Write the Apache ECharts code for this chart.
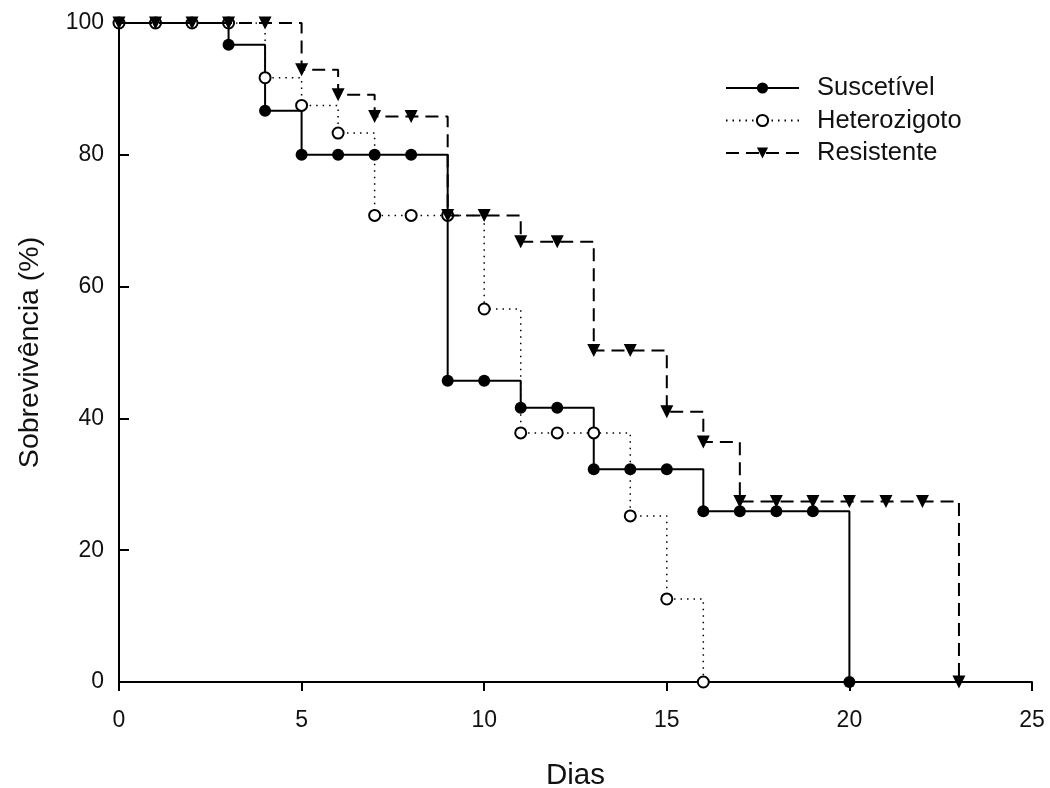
<!DOCTYPE html>
<html>
<head>
<meta charset="utf-8">
<script src="https://cdn.jsdelivr.net/npm/echarts@6/dist/echarts.min.js"></script>
<style>
  html, body { margin: 0; padding: 0; background: #fff; }
  #chart { width: 1050px; height: 788px; }
</style>
</head>
<body>
<div id="chart"></div>
<script>
// dados (sobrevivencia diaria, %)
var suscDays = [0, 1, 2, 3, 4, 5, 6, 7, 8, 9, 10, 11, 12, 13, 14, 15, 16, 17, 18, 19, 20];
var suscValues = [100, 100, 100, 96.7, 86.7, 80, 80, 80, 80, 45.7, 45.7, 41.6, 41.6, 32.3, 32.3, 32.3, 25.9, 25.9, 25.9, 25.9, 0];

var heteroDays = [0, 1, 2, 3, 4, 5, 6, 7, 8, 9, 10, 11, 12, 13, 14, 15, 16];
var heteroValues = [100, 100, 100, 100, 91.7, 87.5, 83.3, 70.8, 70.8, 70.8, 56.6, 37.8, 37.8, 37.8, 25.2, 12.6, 0];

var resistDays = [0, 1, 2, 3, 4, 5, 6, 7, 8, 9, 10, 11, 12, 13, 14, 15, 16, 17, 18, 19, 20, 21, 22, 23];
var resistValues = [100, 100, 100, 100, 100, 92.9, 89.1, 85.8, 85.8, 70.8, 70.8, 66.8, 66.8, 50.3, 50.3, 41.0, 36.4, 27.4, 27.4, 27.4, 27.4, 27.4, 27.4, 0];

var xTicks = [0, 5, 10, 15, 20, 25];
var yTicks = [0, 20, 40, 60, 80, 100];

function pares(xs, ys) {
  return xs.map(function (x, i) { return [x, ys[i]]; });
}

var fonte = "'Liberation Sans', Arial, sans-serif";
var chart = echarts.init(document.getElementById('chart'));

var option = {
  animation: false,
  backgroundColor: '#ffffff',
  grid: { left: 119, right: 18, top: 23, bottom: 106, containLabel: false, outerBoundsMode: 'none' },
  legend: {
    orient: 'vertical',
    left: 720,
    top: 70,
    itemWidth: 73,
    itemHeight: 14,
    itemGap: 6.5,
    data: ['Suscetível', 'Heterozigoto', 'Resistente'],
    textStyle: {
      fontFamily: fonte,
      fontSize: 25.5,
      lineHeight: 26,
      color: '#111',
      padding: [0, 0, 0, 13]
    }
  },
  xAxis: {
    type: 'value',
    min: 0,
    max: 25,
    interval: 5,
    name: 'Dias',
    nameLocation: 'middle',
    nameGap: 79,
    nameTextStyle: { fontFamily: fonte, fontSize: 29.5, color: '#111' },
    axisLine: { lineStyle: { color: '#000', width: 2 } },
    axisTick: { inside: false, length: 9, lineStyle: { color: '#000', width: 2 } },
    axisLabel: {
      margin: 27,
      fontFamily: fonte,
      fontSize: 23,
      color: '#111',
      formatter: function (v) { return xTicks.indexOf(v) >= 0 ? String(v) : ''; }
    },
    splitLine: { show: false }
  },
  yAxis: {
    type: 'value',
    min: 0,
    max: 100,
    interval: 20,
    name: 'Sobrevivência (%)',
    nameLocation: 'middle',
    nameGap: 74,
    nameTextStyle: { fontFamily: fonte, fontSize: 28.5, color: '#111' },
    axisLine: { show: true, lineStyle: { color: '#000', width: 2 } },
    axisTick: { show: true, inside: true, length: 10, lineStyle: { color: '#000', width: 2 } },
    axisLabel: {
      margin: 15,
      fontFamily: fonte,
      fontSize: 23,
      color: '#111',
      formatter: function (v) { return yTicks.indexOf(v) >= 0 ? String(v) : ''; }
    },
    splitLine: { show: false }
  },
  series: [{
    name: 'Suscetível',
    type: 'line',
    step: 'end',
    symbol: 'circle',
    symbolSize: 12,
    lineStyle: { color: '#000', width: 2, type: 'solid' },
    itemStyle: { color: '#000' },
    data: pares(suscDays, suscValues),
    z: 3
  }, {
    name: 'Heterozigoto',
    type: 'line',
    step: 'end',
    symbol: 'emptyCircle',
    symbolSize: 11,
    lineStyle: { color: '#000', width: 1.5, type: [1.5, 5] },
    itemStyle: { color: '#000', borderWidth: 1.8 },
    data: pares(heteroDays, heteroValues),
    z: 4
  }, {
    name: 'Resistente',
    type: 'line',
    step: 'end',
    symbol: 'triangle',
    symbolRotate: 180,
    symbolSize: 13,
    lineStyle: { color: '#000', width: 2, type: [13, 7] },
    itemStyle: { color: '#000' },
    data: pares(resistDays, resistValues),
    z: 5
  }]
};

chart.setOption(option);
</script>
</body>
</html>
